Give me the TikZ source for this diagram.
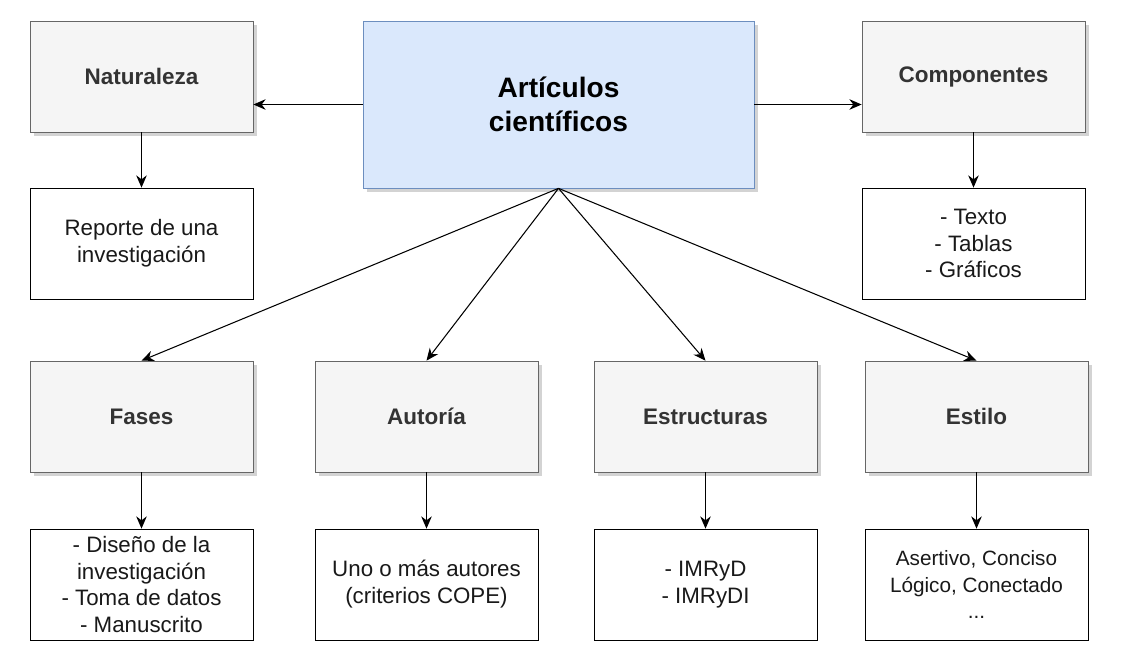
\documentclass[tikz,border=0pt]{standalone}
\usepackage{fontspec}
\setmainfont{Liberation Sans}
\usetikzlibrary{arrows.meta,shadows}
\definecolor{graybox}{HTML}{F5F5F5}
\definecolor{grayline}{HTML}{666666}
\definecolor{bluebox}{HTML}{DAE8FC}
\definecolor{blueline}{HTML}{6C8EBF}
\begin{document}
\begin{tikzpicture}[x=0.02cm,y=-0.02cm,>={Stealth[length=7pt,width=6pt]},
    head/.style={draw=grayline,fill=graybox,drop shadow={shadow xshift=2pt,shadow yshift=-2pt,opacity=0.35},
      minimum width=223*0.02cm,minimum height=111*0.02cm,font=\fontsize{12.8}{15}\selectfont\bfseries,text=black!80},
    info/.style={draw=black,fill=white,minimum width=223*0.02cm,minimum height=111*0.02cm,
      align=center,inner sep=1pt,font=\fontsize{12.7}{15.3}\selectfont,text=black!90},
    link/.style={->,line width=0.6pt}]
  \useasboundingbox (0,0) rectangle (1127,656);
  % main topic
  \node[draw=blueline,fill=bluebox,drop shadow={shadow xshift=2pt,shadow yshift=-2pt,opacity=0.35},
    minimum width=391*0.02cm,minimum height=167*0.02cm,align=center,
    font=\fontsize{16}{19}\selectfont\bfseries] (main) at (558.5,104.5) {Artículos\\científicos};
  % top row
  \node[head] (nat) at (141.5,76.5) {Naturaleza};
  \node[head] (comp) at (973.5,76.5) {Componentes};
  \node[info] (rep) at (141.5,243.5) {Reporte de una\\investigación};
  \node[info] (txt) at (973.5,243.5) {- Texto\\- Tablas\\- Gráficos};
  % lower row
  \node[head] (fas) at (141.5,416.5) {Fases};
  \node[head] (aut) at (426.5,416.5) {Autoría};
  \node[head] (est) at (705.5,416.5) {Estructuras};
  \node[head] (sti) at (976.5,416.5) {Estilo};
  \node[info] (fasb) at (141.5,584.5) {- Diseño de la\\investigación\\- Toma de datos\\- Manuscrito};
  \node[info] (autb) at (426.5,584.5) {Uno o más autores\\(criterios COPE)};
  \node[info] (estb) at (705.5,584.5) {- IMRyD\\- IMRyDI};
  \node[info,font=\fontsize{11.8}{15.3}\selectfont] (stib) at (976.5,584.5) {Asertivo, Conciso\\Lógico, Conectado\\...};
  % connectors
  \draw[link] (main.west) -- (nat.east |- main.west);
  \draw[link] (main.east) -- (comp.west |- main.east);
  \draw[link] (nat) -- (rep);
  \draw[link] (comp) -- (txt);
  \foreach \n in {fas,aut,est,sti}
    \draw[link] (main.south) -- (\n.north);
  \draw[link] (fas) -- (fasb);
  \draw[link] (aut) -- (autb);
  \draw[link] (est) -- (estb);
  \draw[link] (sti) -- (stib);
\end{tikzpicture}
\end{document}
